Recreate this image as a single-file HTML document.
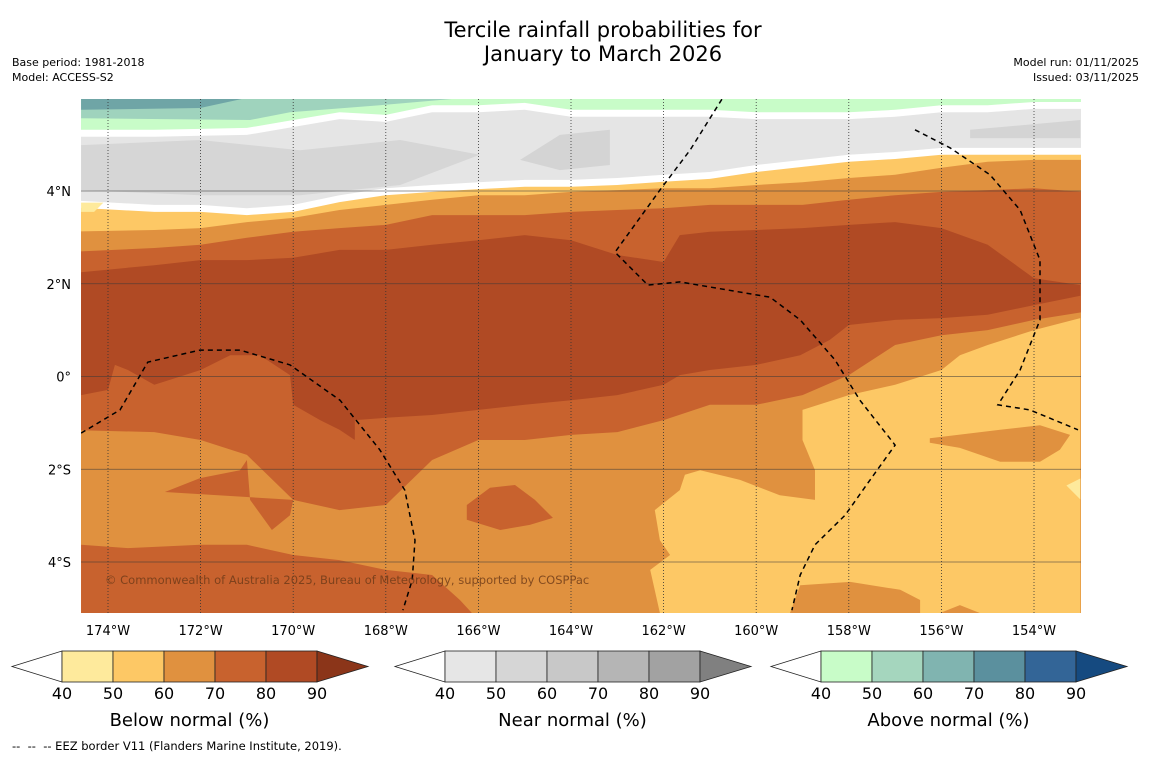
<!DOCTYPE html>
<html><head><meta charset="utf-8">
<style>
html,body{margin:0;padding:0;background:#fff;}
body{width:1150px;height:758px;position:relative;overflow:hidden;font-family:"DejaVu Sans","Liberation Sans",sans-serif;color:#000;}
.t{position:absolute;white-space:nowrap;}
</style></head>
<body>
<div class="t" style="left:0;width:1206px;top:18px;text-align:center;font-size:21px;line-height:24px;">Tercile rainfall probabilities for<br>January to March 2026</div>
<div class="t" style="left:12px;top:55px;font-size:11px;line-height:15px;">Base period: 1981-2018<br>Model: ACCESS-S2</div>
<div class="t" style="right:11px;top:55px;font-size:11px;line-height:15px;text-align:right;">Model run: 01/11/2025<br>Issued: 03/11/2025</div>
<svg id="map" width="1150" height="758" style="position:absolute;left:0;top:0;" xmlns="http://www.w3.org/2000/svg"></svg>
<div class="t" style="left:12px;top:739px;font-size:11.5px;">--&nbsp; --&nbsp; -- EEZ border V11 (Flanders Marine Institute, 2019).</div>
<script>
// ---- data (lon °E negative = W, lat °N) ----
const LONS = [-174.6,-173,-172,-171,-170,-169,-168,-167,-166,-165,-164,-163,-162,-161,-160,-159,-158,-157,-156,-155,-154,-153];
const greenBottom = [5.32,5.32,5.34,5.36,5.53,5.70,5.64,5.85,5.85,5.90,5.75,5.75,5.75,5.75,5.70,5.70,5.70,5.75,5.85,5.85,5.92,5.92];
const greyBottom = [3.81,3.70,3.70,3.63,3.70,3.91,4.06,4.13,4.19,4.24,4.24,4.28,4.35,4.41,4.56,4.67,4.78,4.84,4.93,4.93,4.93,4.93];
const top60 = [3.12,3.16,3.20,3.33,3.42,3.59,3.70,3.81,3.91,3.91,3.98,4.02,4.06,4.06,4.13,4.19,4.28,4.35,4.50,4.63,4.67,4.67];
const top70 = [2.68,2.77,2.84,2.99,3.12,3.20,3.27,3.48,3.48,3.48,3.55,3.59,3.63,3.70,3.70,3.70,3.81,3.91,3.98,4.02,4.06,3.91];
const bottom70 = [-1.15,-1.20,-1.37,-1.69,-2.66,-2.88,-2.77,-1.80,-1.37,-1.37,-1.26,-1.20,-0.94,-0.61,-0.61,-0.40,0.03,0.68,0.89,1.00,1.22,1.54];
const core80 = [[-174.58,2.25],[-173,2.40],[-172,2.51],[-171,2.51],[-170,2.56],[-169,2.73],[-168,2.73],[-167,2.84],[-166,2.94],[-165,3.05],[-164,2.94],[-163,2.62],[-162,2.47],[-161.65,3.05],[-161,3.12],[-160,3.16],[-159,3.20],[-158,3.27],[-157,3.33],[-156,3.20],[-155,2.84],[-154,2.12],[-153,1.97],
 [-153,1.74],[-154,1.54],[-155,1.33],[-156,1.26],[-157,1.22],[-158,1.11],[-158.41,0.79],[-159.05,0.46],[-160,0.25],[-161,0.14],[-161.65,0.03],[-162,-0.18],[-163,-0.40],[-164,-0.51],[-165,-0.61],[-166,-0.72],[-167,-0.83],[-168,-0.89],[-168.67,-0.94],[-168.67,-1.37],[-169,-1.15],[-169.42,-0.94],[-170,-0.61],[-170.07,0.03],[-170.72,0.46],[-171.36,0.46],[-172,0.14],[-173,-0.18],[-173.57,0.14],[-173.85,0.25],[-174,-0.29],[-174.58,-0.40]];
const south70 = [[-174.58,-3.63],[-173.57,-3.70],[-172,-3.63],[-171,-3.63],[-170,-3.85],[-169,-3.96],[-168,-4.17],[-167,-4.28],[-166.4,-4.82],[-166.14,-5.1],[-174.58,-5.1]];
const blob70 = [[-166.25,-2.77],[-165.75,-2.40],[-165.21,-2.34],[-164.78,-2.66],[-164.39,-3.05],[-164.89,-3.20],[-165.53,-3.31],[-166.25,-3.09]];
const tongue70 = [[-172.77,-2.49],[-172.01,-2.19],[-171.15,-2.02],[-171,-1.80],[-170.93,-2.66],[-170.46,-3.31],[-170.07,-2.99],[-170,-2.66]];
const seYellow = [[-153,1.26],[-154,1.00],[-155,0.68],[-155.6,0.46],[-156,0.14],[-157,-0.18],[-158,-0.40],[-159,-0.72],[-159,-1.37],[-158.73,-2.02],[-158.73,-2.66],[-159.49,-2.56],[-160.35,-2.23],[-161.21,-2.02],[-161.54,-2.12],[-161.65,-2.45],[-162.19,-2.88],[-162.08,-3.53],[-161.86,-3.85],[-162.29,-4.17],[-162.08,-5.1],[-159.27,-5.1],[-159.05,-4.50],[-157.97,-4.43],[-156.89,-4.60],[-156.46,-4.82],[-156.46,-5.1],[-156.03,-5.1],[-155.6,-4.93],[-155.17,-5.1],[-153,-5.1]];
const patch60 = [[-156.25,-1.33],[-154.73,-1.15],[-153.87,-1.05],[-153.22,-1.26],[-153.44,-1.58],[-153.87,-1.84],[-154.73,-1.84],[-155.6,-1.54],[-156.25,-1.43]];
const pale40a = [[-174.58,3.75],[-174.1,3.75],[-174.3,3.55],[-174.58,3.55]];
const pale40b = [[-153.3,-2.35],[-153,-2.2],[-153,-2.65]];
const greyDark1 = [[-174.58,4.99],[-172.01,5.10],[-169.85,4.88],[-167.69,5.10],[-165.97,4.78],[-167.69,4.13],[-169.85,3.91],[-172.01,3.91],[-174.58,4.02]];
const greyDark2 = [[-165.1,4.67],[-164.24,5.21],[-163.16,5.32],[-163.16,4.56],[-164.24,4.45]];
const greyDark3 = [[-155.38,5.32],[-153,5.53],[-153,5.14],[-155.38,5.14]];
const greenMid = [[-174.58,6.0],[-166.4,6.0],[-168.13,5.85],[-170.07,5.70],[-170.93,5.53],[-174.58,5.57]];
const greenTeal = [[-174.58,6.0],[-171.04,6.0],[-172.01,5.79],[-174.58,5.75]];
const eez1 = [[-174.58,-1.22],[-173.74,-0.72],[-173.14,0.31],[-172.01,0.57],[-171.15,0.57],[-170.07,0.25],[-168.99,-0.51],[-168.13,-1.58],[-167.59,-2.45],[-167.37,-3.53],[-167.43,-4.39],[-167.63,-5.04]];
const eez2 = [[-160.74,5.98],[-161.43,4.88],[-162.08,4.02],[-163.05,2.68],[-162.34,1.97],[-161.65,2.04],[-159.70,1.71],[-159.05,1.22],[-158.30,0.36],[-157.76,-0.51],[-157.0,-1.48],[-157.54,-2.23],[-158.08,-2.99],[-158.73,-3.63],[-159.05,-4.28],[-159.23,-5.04]];
const eez3 = [[-156.57,5.32],[-155.81,4.93],[-154.95,4.35],[-154.30,3.59],[-153.87,2.51],[-153.87,1.22],[-154.30,0.14],[-154.78,-0.61],[-154.09,-0.72],[-153.05,-1.15]];
const lonTicks = [-174,-172,-170,-168,-166,-164,-162,-160,-158,-156,-154];
const latTicks = [4,2,0,-2,-4];
const latLabels = ["4°N","2°N","0°","2°S","4°S"];
const cbTicks = [40,50,60,70,80,90];
const belowColors = ["#feea9c","#fdc865","#e0913f","#c8622e","#b04a24","#8b3519"];
const nearColors = ["#e6e6e6","#d6d6d6","#c8c8c8","#b5b5b5","#a2a2a2","#808080"];
const aboveColors = ["#c8fcc8","#a5d6be","#80b4b0","#5b909e","#336597","#154a80"];

// ---- axes ----
const PX0=81,PX1=1081,PY0=99,PY1=613;
const X = lon => 108 + (lon + 174) * 46.3;
const Y = lat => 191 + (4 - lat) * 46.375;
const NS='http://www.w3.org/2000/svg';
const svg=document.getElementById('map');
function mk(tag,attrs,parent){const e=document.createElementNS(NS,tag);for(const k in attrs)e.setAttribute(k,attrs[k]);(parent||svg).appendChild(e);return e;}
const defs=mk('defs',{});
const cp=mk('clipPath',{id:'clip'},defs);
mk('rect',{x:PX0,y:PY0,width:PX1-PX0,height:PY1-PY0},cp);
const g=mk('g',{'clip-path':'url(#clip)'});


function pts(arr){return arr.map(p=>X(p[0]).toFixed(1)+','+Y(p[1]).toFixed(1)).join(' ');}
function poly(arr,fill,name){const e=mk('polygon',{points:pts(arr),fill:fill},g);


return e;}
function band(topArr,botArr,offTop,fill,name){const a=[];
LONS.forEach((l,i)=>a.push([l,(topArr?topArr[i]:6.3)-offTop]));
for(let i=LONS.length-1;i>=0;i--)a.push([LONS[i],botArr?botArr[i]:-5.3]);
a[0][0]=-175;a[LONS.length-1][0]=-152;a[LONS.length][0]=-152;a[a.length-1][0]=-175;
return poly(a,fill,name);}
mk('rect',{x:PX0,y:PY0,width:PX1-PX0,height:PY1-PY0,fill:'#fff'},g);
band(null,greenBottom,0,'#c8fcc8','above-normal-40-50');
poly(greenMid,'#9fd3bd','above-normal-50-60');
poly(greenTeal,'#6fa5a6','above-normal-60-70');
band(greenBottom,greyBottom,0.15,'#e5e5e5','near-normal-40-50');
poly(greyDark1,'#d6d6d6','near-normal-50-60-west');
poly(greyDark2,'#d4d4d4','near-normal-50-60-mid');
poly(greyDark3,'#d4d4d4','near-normal-50-60-east');
band(greyBottom,null,0.15,'#fdc865','below-normal-50-60');
poly(pale40a,'#feea9c','below-normal-40-50-west');
band(top60,null,0,'#e0913f','below-normal-60-70');
band(top70,bottom70,0,'#c8622e','below-normal-70-80');
poly(south70,'#c8622e','below-normal-70-80-south');
poly(blob70,'#c8622e','below-normal-70-80-blob');
poly(tongue70,'#c8622e','below-normal-70-80-tongue');
poly(core80,'#b04a24','below-normal-80-90-core');
poly(seYellow,'#fdc865','below-normal-50-60-southeast');
poly(patch60,'#e0913f','below-normal-60-70-patch');
poly(pale40b,'#feea9c','below-normal-40-50-east');
// grid
lonTicks.forEach(l=>{const e=mk('line',{x1:X(l),x2:X(l),y1:PY0,y2:PY1,stroke:'#333','stroke-width':0.8,'stroke-dasharray':'1,2'},g);

});
latTicks.forEach(l=>{const e=mk('line',{x1:PX0,x2:PX1,y1:Y(l),y2:Y(l),stroke:'#3a3a3a','stroke-width':0.7,'stroke-opacity':0.7},g);

});
[eez1,eez2,eez3].forEach(a=>{const e=mk('polyline',{points:pts(a),fill:'none',stroke:'#000','stroke-width':1.5,'stroke-dasharray':'5,4'},g);

});
const cr=mk('text',{x:105,y:584,'font-size':11.5,fill:'#6b3a18','fill-opacity':0.8,'font-family':'DejaVu Sans, sans-serif'},g);
cr.textContent='© Commonwealth of Australia 2025, Bureau of Meteorology, supported by COSPPac';


// tick labels
lonTicks.forEach(l=>{const t=mk('text',{x:X(l),y:635,'font-size':13,'text-anchor':'middle','font-family':'DejaVu Sans, sans-serif'});t.textContent=Math.abs(l)+'°W';

});
latTicks.forEach((l,i)=>{const t=mk('text',{x:71,y:Y(l)+5,'font-size':13,'text-anchor':'end','font-family':'DejaVu Sans, sans-serif'});t.textContent=latLabels[i];

});
// colorbars
function colorbar(x0,colors,title,name){const cg=mk('g',{});


const w=51,y0=651,h=31,bx=x0+50;
mk('polygon',{points:`${x0},${y0+h/2} ${bx},${y0} ${bx},${y0+h}`,fill:'#fff',stroke:'#222','stroke-width':0.8},cg);
for(let i=0;i<5;i++)mk('rect',{x:bx+i*w,y:y0,width:w,height:h,fill:colors[i],stroke:'#222','stroke-width':0.8},cg);
const ex=bx+5*w;
mk('polygon',{points:`${ex},${y0} ${ex+51},${y0+h/2} ${ex},${y0+h}`,fill:colors[5],stroke:'#222','stroke-width':0.8},cg);
cbTicks.forEach((v,i)=>{const t=mk('text',{x:bx+i*w,y:699,'font-size':16,'text-anchor':'middle','font-family':'DejaVu Sans, sans-serif'},cg);t.textContent=v;});
const tt=mk('text',{x:bx+2.5*w,y:726,'font-size':18,'text-anchor':'middle','font-family':'DejaVu Sans, sans-serif'},cg);tt.textContent=title;}
colorbar(12,belowColors,'Below normal (%)','below-normal-colorbar');
colorbar(395,nearColors,'Near normal (%)','near-normal-colorbar');
colorbar(771,aboveColors,'Above normal (%)','above-normal-colorbar');
</script>
</body></html>
